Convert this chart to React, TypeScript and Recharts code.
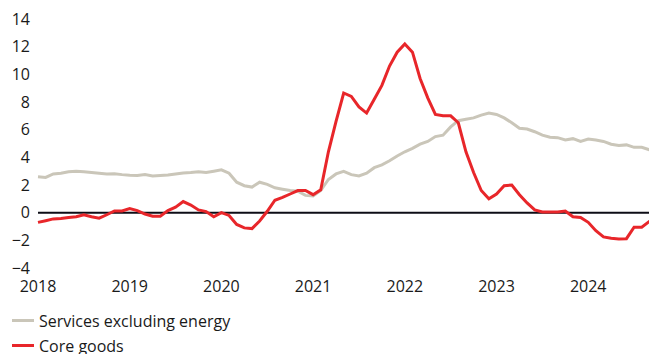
import { LineChart, Line, XAxis, YAxis, ReferenceLine } from 'recharts';

// monthly, Jan 2018 - Oct 2024, % y/y
const years = ['2018', '2019', '2020', '2021', '2022', '2023', '2024'];

const services = [
    2.6, 2.55, 2.8, 2.85, 2.95, 3.0, 2.95, 2.9, 2.85, 2.8, 2.82, 2.75,
    2.7, 2.68, 2.75, 2.65, 2.68, 2.72, 2.8, 2.87, 2.9, 2.96, 2.9, 3.0,
    3.1, 2.85, 2.2, 1.95, 1.85, 2.2, 2.05, 1.8, 1.7, 1.6, 1.55, 1.25,
    1.2, 1.6, 2.4, 2.8, 2.98, 2.75, 2.65, 2.85, 3.25, 3.45, 3.75, 4.1,
    4.4, 4.65, 4.95, 5.15, 5.5, 5.6, 6.2, 6.65, 6.75, 6.85, 7.05, 7.2,
    7.1, 6.85, 6.5, 6.1, 6.05, 5.85, 5.6, 5.45, 5.42, 5.25, 5.35, 5.15,
    5.32, 5.25, 5.15, 4.95, 4.85, 4.9, 4.72, 4.72, 4.55, 4.4,
];

const coreGoods = [
    -0.7, -0.58, -0.45, -0.42, -0.35, -0.3, -0.15, -0.3, -0.4, -0.15, 0.12, 0.12,
    0.3, 0.15, -0.1, -0.25, -0.25, 0.15, 0.4, 0.8, 0.55, 0.2, 0.08, -0.3,
    0.0, -0.2, -0.85, -1.1, -1.15, -0.6, 0.1, 0.9, 1.1, 1.35, 1.6, 1.6,
    1.3, 1.65, 4.4, 6.6, 8.65, 8.4, 7.65, 7.2, 8.2, 9.2, 10.6, 11.6,
    12.2, 11.6, 9.7, 8.3, 7.1, 7.0, 7.0, 6.5, 4.4, 2.9, 1.6, 1.0,
    1.35, 1.95, 2.0, 1.3, 0.7, 0.2, 0.05, 0.05, 0.05, 0.12, -0.3, -0.35,
    -0.7, -1.3, -1.75, -1.85, -1.9, -1.88, -1.05, -1.05, -0.63, -0.6,
];

const yTicks = [-4, -2, 0, 2, 4, 6, 8, 10, 12, 14];

const data = services.map((s, i) => ({ t: i, services: s, goods: coreGoods[i] }));

const font = '"Open Sans", sans-serif';
const tickStyle = { fill: '#1a1a1a', fontSize: 16, fontFamily: font };

const App = () => {
    return (
        <div style={{ width: 649, fontFamily: font }}>
            <LineChart width={649} height={290} data={data} margin={{ top: 11, right: 0, left: 0, bottom: 0 }}>
                <XAxis
                    dataKey="t"
                    type="number"
                    domain={[0, 81]}
                    ticks={[0, 12, 24, 36, 48, 60, 72]}
                    tickFormatter={(v: number) => years[v / 12]}
                    axisLine={false}
                    tickLine={false}
                    tick={tickStyle}
                    tickMargin={7}
                    height={30}
                    interval={0}
                />
                <YAxis
                    domain={[-4, 14]}
                    ticks={yTicks}
                    tickFormatter={(v: number) => (v < 0 ? '\u2212' + Math.abs(v) : String(v))}
                    axisLine={false}
                    tickLine={false}
                    tick={tickStyle}
                    width={30}
                    interval={0}
                />
                <ReferenceLine y={0} stroke="#0d0d16" strokeWidth={2} />
                <Line
                    type="linear"
                    dataKey="services"
                    stroke="#cac6b9"
                    strokeWidth={3}
                    dot={false}
                    isAnimationActive={false}
                />
                <Line
                    type="linear"
                    dataKey="goods"
                    stroke="#e8262a"
                    strokeWidth={3}
                    dot={false}
                    isAnimationActive={false}
                />
            </LineChart>
            <div style={{ marginTop: 10, fontSize: 16, color: '#1a1a1a' }}>
                <div style={{ height: 25, display: 'flex', alignItems: 'center' }}>
                    <span style={{ display: 'inline-block', width: 22, height: 3, background: '#cac6b9', marginLeft: 4, marginRight: 5 }} />
                    Services excluding energy
                </div>
                <div style={{ height: 25, display: 'flex', alignItems: 'center' }}>
                    <span style={{ display: 'inline-block', width: 22, height: 3, background: '#e8262a', marginLeft: 4, marginRight: 5 }} />
                    Core goods
                </div>
            </div>
        </div>
    );
};

export default App;
